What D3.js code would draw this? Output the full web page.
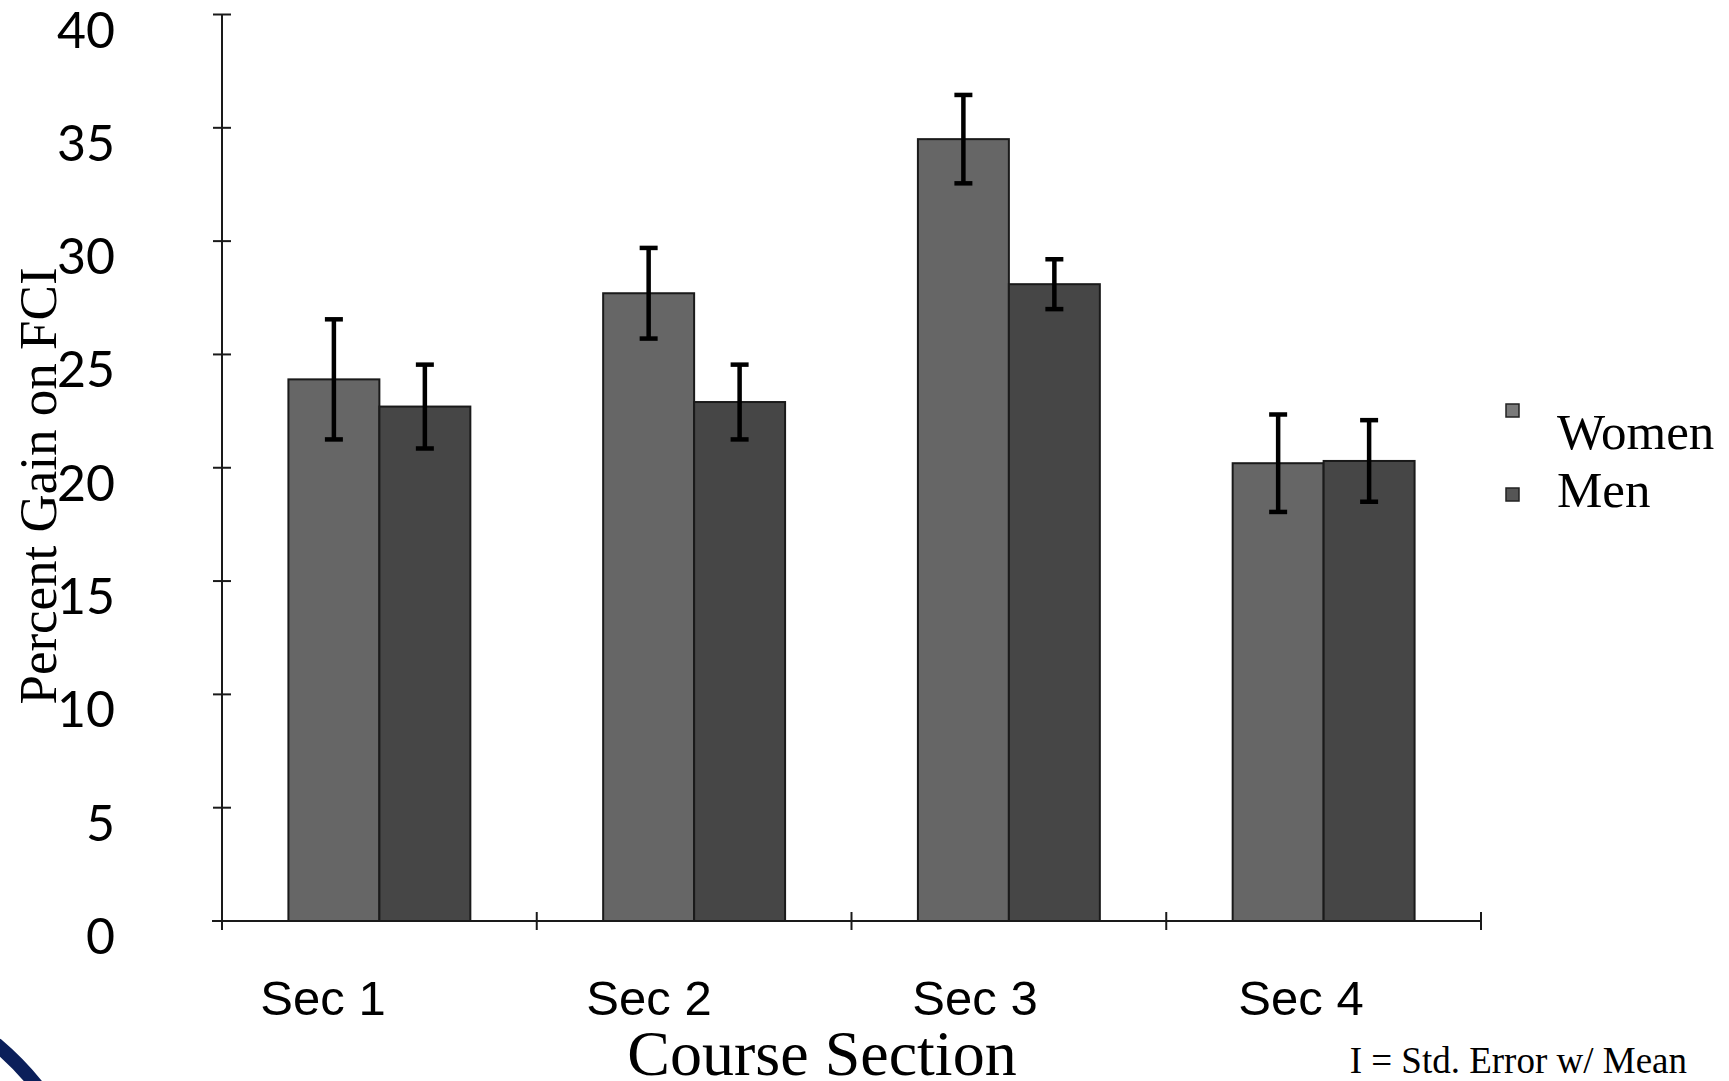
<!DOCTYPE html>
<html>
<head>
<meta charset="utf-8">
<script src="https://cdn.jsdelivr.net/npm/d3@7"></script>
<style>
  html, body { margin: 0; padding: 0; background: #fff; }
  svg { display: block; }
</style>
</head>
<body>
<div id="chart"></div>
<script>
// data
var sections = ['Sec 1', 'Sec 2', 'Sec 3', 'Sec 4'];
var seriesNames = ['Women', 'Men'];
var women = [23.9, 27.7, 34.5, 20.2];
var men = [22.7, 22.9, 28.1, 20.3];
var womenErr = [2.65, 2.0, 1.95, 2.15];
var menErr = [1.85, 1.65, 1.1, 1.8];
var yTicks = [0, 5, 10, 15, 20, 25, 30, 35, 40];

var width = 1729, height = 1081;
var colors = { Women: '#666666', Men: '#464646' };

var svg = d3.select('#chart').append('svg')
  .attr('width', width)
  .attr('height', height);

// scales
var y = d3.scaleLinear().domain([0, 40]).range([921, 14.5]);
var x0 = d3.scaleBand().domain(sections).range([222, 1481]).padding(0);
var x1 = d3.scaleBand().domain(seriesNames).range([0, x0.bandwidth()])
  .paddingInner(0).paddingOuter(0.73);
// the section names sit a bit left of the bar groups in the original
var xLabel = d3.scalePoint().domain(sections).range([323, 1301]);

var rows = sections.map(function(s, i) {
  return { section: s, values: [
    { name: 'Women', v: women[i], e: womenErr[i] },
    { name: 'Men', v: men[i], e: menErr[i] }
  ]};
});

// bars
var groups = svg.selectAll('.group')
  .data(rows)
  .enter().append('g')
  .attr('class', 'group')
  .attr('transform', function(d) { return 'translate(' + x0(d.section) + ',0)'; });

groups.selectAll('rect')
  .data(function(d) { return d.values; })
  .enter().append('rect')
  .attr('x', function(d) { return x1(d.name); })
  .attr('y', function(d) { return y(d.v); })
  .attr('width', x1.bandwidth())
  .attr('height', function(d) { return y(0) - y(d.v); })
  .attr('fill', function(d) { return colors[d.name]; })
  .attr('stroke', '#1a1a1a')
  .attr('stroke-width', 2);

// error bars
var err = groups.selectAll('.err')
  .data(function(d) { return d.values; })
  .enter().append('g')
  .attr('class', 'err')
  .attr('stroke', '#000')
  .attr('stroke-width', 4.5);

err.append('line')
  .attr('x1', function(d) { return x1(d.name) + x1.bandwidth() / 2; })
  .attr('x2', function(d) { return x1(d.name) + x1.bandwidth() / 2; })
  .attr('y1', function(d) { return y(d.v + d.e); })
  .attr('y2', function(d) { return y(d.v - d.e); });

[1, -1].forEach(function(sign) {
  err.append('line')
    .attr('x1', function(d) { return x1(d.name) + x1.bandwidth() / 2 - 9; })
    .attr('x2', function(d) { return x1(d.name) + x1.bandwidth() / 2 + 9; })
    .attr('y1', function(d) { return y(d.v + sign * d.e); })
    .attr('y2', function(d) { return y(d.v + sign * d.e); });
});

// y axis
var yAxis = svg.append('g').attr('stroke', '#1a1a1a').attr('stroke-width', 2);
yAxis.append('line')
  .attr('x1', 222).attr('x2', 222)
  .attr('y1', y(40)).attr('y2', y(0) + 9);
yAxis.selectAll('.ytick')
  .data(yTicks)
  .enter().append('line')
  .attr('x1', 213).attr('x2', 231)
  .attr('y1', function(d) { return y(d); })
  .attr('y2', function(d) { return y(d); });

svg.selectAll('.ylabel')
  .data(yTicks)
  .enter().append('text')
  .attr('x', 115)
  .attr('y', function(d) { return y(d) + 33; })
  .attr('text-anchor', 'end')
  .style('font-family', 'Lato, sans-serif')
  .style('font-size', '50px')
  .style('fill', '#000')
  .text(function(d) { return d; });

// x axis
var xAxis = svg.append('g').attr('stroke', '#1a1a1a').attr('stroke-width', 2);
xAxis.append('line')
  .attr('x1', 212).attr('x2', 1481)
  .attr('y1', y(0)).attr('y2', y(0));
var xTickPos = sections.map(function(s) { return x0(s); }).concat([x0.range()[1]]);
xAxis.selectAll('.xtick')
  .data(xTickPos)
  .enter().append('line')
  .attr('x1', function(d) { return d; })
  .attr('x2', function(d) { return d; })
  .attr('y1', y(0) - 9).attr('y2', y(0) + 9);

svg.selectAll('.xlabel')
  .data(sections)
  .enter().append('text')
  .attr('x', function(d) { return xLabel(d); })
  .attr('y', 1015)
  .attr('text-anchor', 'middle')
  .style('font-family', '"Liberation Sans", Arial, sans-serif')
  .style('font-size', '49px')
  .style('fill', '#000')
  .text(function(d) { return d; });

// axis titles
svg.append('text')
  .attr('transform', 'translate(56,486) rotate(-90)')
  .attr('text-anchor', 'middle')
  .style('font-family', '"Liberation Serif", "Times New Roman", serif')
  .style('font-size', '53px')
  .text('Percent Gain on FCI');

svg.append('text')
  .attr('x', 822).attr('y', 1075)
  .attr('text-anchor', 'middle')
  .style('font-family', '"Liberation Serif", "Times New Roman", serif')
  .style('font-size', '64px')
  .text('Course Section');

svg.append('text')
  .attr('x', 1687).attr('y', 1073)
  .attr('text-anchor', 'end')
  .style('font-family', '"Liberation Serif", "Times New Roman", serif')
  .style('font-size', '37px')
  .text('I = Std. Error w/ Mean');

// legend
var legend = svg.selectAll('.legend')
  .data(seriesNames)
  .enter().append('g')
  .attr('class', 'legend');

legend.append('rect')
  .attr('x', 1506)
  .attr('y', function(d, i) { return 404 + i * 84; })
  .attr('width', 13).attr('height', 13)
  .attr('fill', function(d) { return d === 'Women' ? '#7a7a7a' : '#555'; })
  .attr('stroke', '#222')
  .attr('stroke-width', 1.5);

legend.append('text')
  .attr('x', 1557)
  .attr('y', function(d, i) { return 449 + i * 58; })
  .style('font-family', '"Liberation Serif", "Times New Roman", serif')
  .style('font-size', '51px')
  .text(function(d) { return d; });

// slide decoration in the bottom-left corner
svg.append('path')
  .attr('d', 'M -4 1044 Q 22 1066 40 1090')
  .attr('fill', 'none')
  .attr('stroke', '#0b1f5a')
  .attr('stroke-width', 14);
</script>
</body>
</html>
